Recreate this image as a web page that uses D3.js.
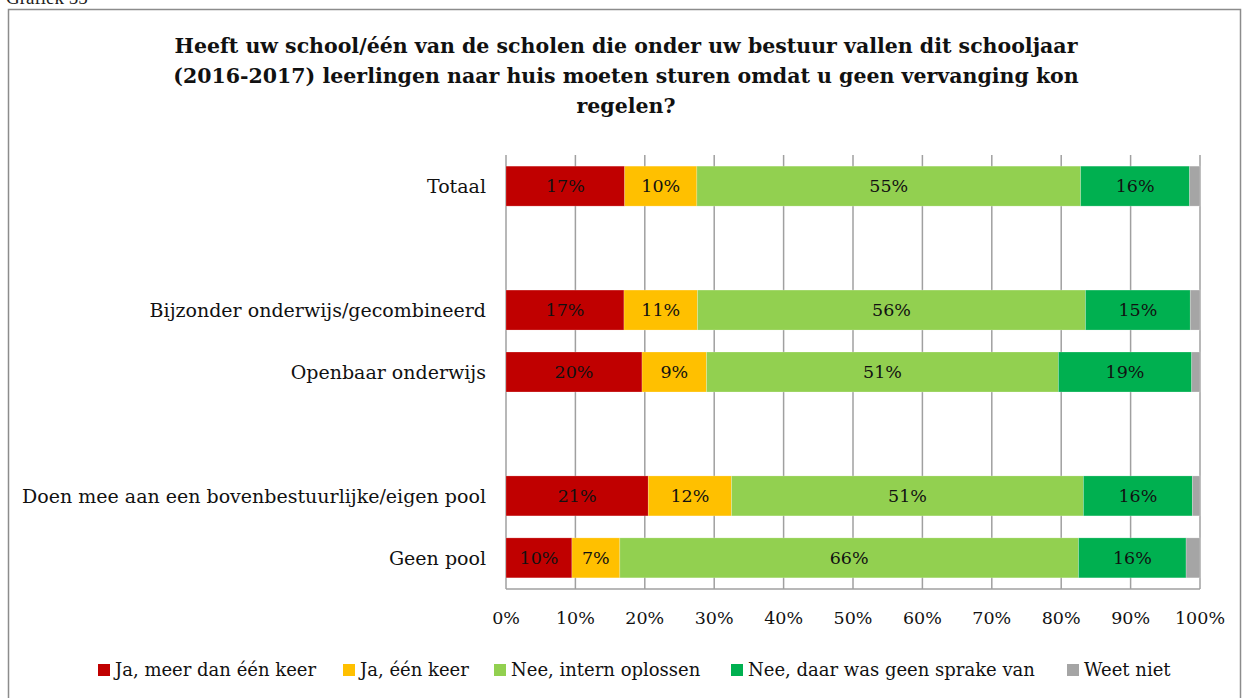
<!DOCTYPE html>
<html>
<head>
<meta charset="utf-8">
<script src="https://cdn.jsdelivr.net/npm/d3@7"></script>
<style>
  body { margin: 0; background: #fff; }
  svg { display: block; font-family: 'DejaVu Serif', serif; }
</style>
</head>
<body>
<svg id="chart" width="1243" height="698"></svg>
<script>
const CATEGORIES = ['Totaal', '', 'Bijzonder onderwijs/gecombineerd', 'Openbaar onderwijs', ' ', 'Doen mee aan een bovenbestuurlijke/eigen pool', 'Geen pool']
const SERIES = ['Ja, meer dan één keer', 'Ja, één keer', 'Nee, intern oplossen', 'Nee, daar was geen sprake van', 'Weet niet']
const COLORS = ['#c00000', '#ffc000', '#92d050', '#00b050', '#a5a5a5']
// one row per category, values in %
const VALUES = [
  [17.1, 10.4, 55.3, 15.7, 1.5],
  null,
  [17.0, 10.6, 55.9, 15.1, 1.4],
  [19.6, 9.3, 50.7, 19.2, 1.2],
  null,
  [20.5, 12.0, 50.7, 15.7, 1.1],
  [9.5, 6.9, 66.1, 15.5, 2.0]
]
const TICKS = [0, 10, 20, 30, 40, 50, 60, 70, 80, 90, 100]
const TITLE = [
  'Heeft uw school/één van de scholen die onder uw bestuur vallen dit schooljaar',
  '(2016-2017) leerlingen naar huis moeten sturen omdat u geen vervanging kon',
  'regelen?'
]

const svg = d3.select('#chart')
const margin = {top: 155, left: 506, right: 43, bottom: 109}
const width = 1243 - margin.left - margin.right
const height = 698 - margin.top - margin.bottom

// frame
svg.append('rect')
  .attr('x', 8.5).attr('y', 9.5)
  .attr('width', 1232).attr('height', 700)
  .attr('fill', 'none').attr('stroke', '#8c8c8c').attr('stroke-width', 1.5)

svg.append('text')
  .attr('x', 6).attr('y', 4)
  .attr('font-size', 19)
  .attr('font-family', 'Liberation Serif, serif')
  .attr('fill', '#222')
  .text('Grafiek 55')

svg.append('g').selectAll('text').data(TITLE).join('text')
  .attr('x', 626)
  .attr('y', (d, i) => 53 + i * 30)
  .attr('text-anchor', 'middle')
  .attr('font-size', 20.5)
  .attr('font-weight', 'bold')
  .attr('fill', '#111')
  .text(d => d)

const x = d3.scaleLinear().domain([0, 100]).range([0, width])
const y = d3.scaleBand().domain(CATEGORIES).range([0, height]).paddingInner(0.355).paddingOuter(0.18)

const g = svg.append('g').attr('transform', `translate(${margin.left},${margin.top})`)

// gridlines
g.append('g').selectAll('line').data(TICKS).join('line')
  .attr('x1', d => x(d)).attr('x2', d => x(d))
  .attr('y1', 0).attr('y2', height)
  .attr('stroke', '#a0a0a0').attr('stroke-width', 1.5)

g.append('line')
  .attr('x1', 0).attr('x2', width)
  .attr('y1', height).attr('y2', height)
  .attr('stroke', '#a0a0a0').attr('stroke-width', 1.5)

// stacked bars
const rows = CATEGORIES.map((c, i) => ({ cat: c, vals: VALUES[i] })).filter(d => d.vals)
const segs = []
rows.forEach(r => {
  let acc = 0
  r.vals.forEach((v, k) => {
    segs.push({ cat: r.cat, k, v, x0: acc, x1: acc + v })
    acc += v
  })
})

g.append('g').selectAll('rect').data(segs).join('rect')
  .attr('x', d => x(d.x0))
  .attr('y', d => y(d.cat))
  .attr('width', d => x(d.x1) - x(d.x0))
  .attr('height', y.bandwidth())
  .attr('fill', d => COLORS[d.k])
  .attr('stroke', 'rgba(255,255,255,0.25)')
  .attr('stroke-width', 0.8)

g.append('g').selectAll('text').data(segs.filter(d => d.v >= 3)).join('text')
  .attr('x', d => (x(d.x0) + x(d.x1)) / 2)
  .attr('y', d => y(d.cat) + y.bandwidth() / 2)
  .attr('dy', '0.36em')
  .attr('text-anchor', 'middle')
  .attr('font-size', 17.5)
  .attr('fill', '#111')
  .text(d => Math.round(d.v) + '%')

// category labels
g.append('g').selectAll('text').data(rows).join('text')
  .attr('x', -20)
  .attr('y', d => y(d.cat) + y.bandwidth() / 2)
  .attr('dy', '0.36em')
  .attr('text-anchor', 'end')
  .attr('font-size', 19)
  .attr('fill', '#111')
  .text(d => d.cat)

// x tick labels
g.append('g').selectAll('text').data(TICKS).join('text')
  .attr('x', d => x(d))
  .attr('y', height + 35)
  .attr('text-anchor', 'middle')
  .attr('font-size', 17.5)
  .attr('fill', '#111')
  .text(d => d + '%')

// legend
const legendX = [98, 343, 494, 731, 1067]
const legend = svg.append('g').selectAll('g').data(SERIES).join('g')
  .attr('transform', (d, i) => `translate(${legendX[i]},670)`)
legend.append('rect')
  .attr('x', 0).attr('y', -6)
  .attr('width', 12).attr('height', 12)
  .attr('fill', (d, i) => COLORS[i])
legend.append('text')
  .attr('x', 17).attr('dy', '0.36em')
  .attr('font-size', 18)
  .attr('fill', '#111')
  .text(d => d)
</script>
</body>
</html>
